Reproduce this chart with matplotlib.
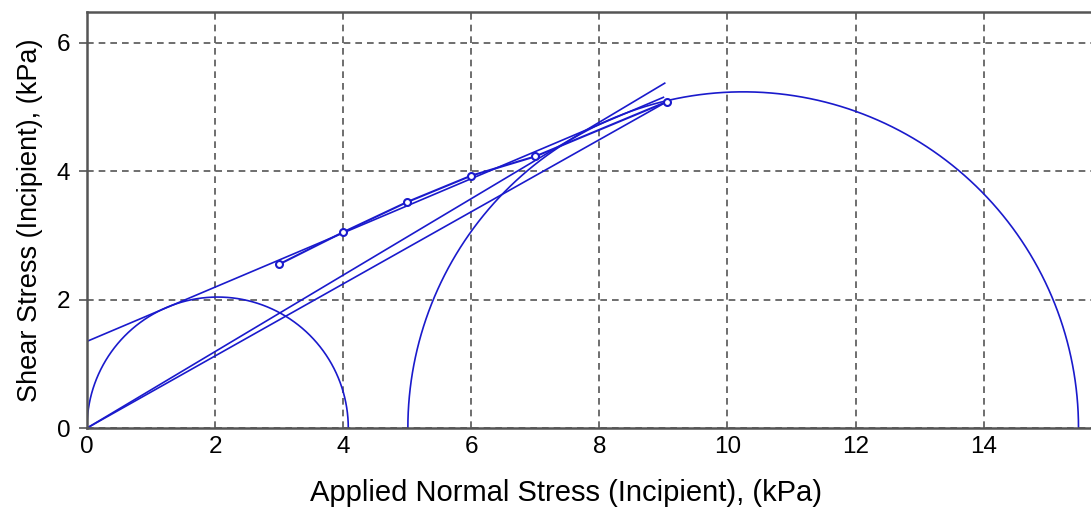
import matplotlib
matplotlib.use('Agg')
import matplotlib.pyplot as plt
import numpy as np

plt.rcParams['font.family'] = ['Liberation Sans', 'DejaVu Sans']

# ensayos de corte: esfuerzo normal aplicado y esfuerzo cortante medido (kPa)
normal = [3, 4, 5, 6, 7, 9.05]
corte = [2.55, 3.05, 3.52, 3.93, 4.23, 5.08]

# circulos de Mohr: (centro, radio)
circulos = [(2.04, 2.04), (10.245, 5.235)]

# envolvente tangente a ambos circulos y rectas desde el origen
envolvente_x = [0, 9.0]
envolvente_y = [1.35, 5.15]
recta_a_x = [0, 9.02]
recta_a_y = [0, 5.37]
recta_b_x = [0, 9.05]
recta_b_y = [0, 5.08]

azul = '#1a1acc'

fig = plt.figure(figsize=(10.91, 5.17), dpi=100)
ax = fig.add_axes([0.0797, 0.172, 0.92, 0.805])

t = np.linspace(0, np.pi, 400)
for c, r in circulos:
    ax.plot(c + r * np.cos(t), r * np.sin(t), color=azul, lw=1.2)

ax.plot(envolvente_x, envolvente_y, color=azul, lw=1.2)
ax.plot(recta_a_x, recta_a_y, color=azul, lw=1.2)
ax.plot(recta_b_x, recta_b_y, color=azul, lw=1.2)
ax.plot(normal, corte, color=azul, lw=1.5, marker='o', ms=5,
        mfc='white', mec=azul, mew=1.5)

ax.set_xlim(0, 15.67)
ax.set_ylim(0, 6.48)
ax.set_xticks([0, 2, 4, 6, 8, 10, 12, 14])
ax.set_yticks([0, 2, 4, 6])
ax.grid(True, color='#555555', linestyle=(0, (4, 3)), lw=1.2)
ax.set_axisbelow(True)

for lado in ['left', 'bottom', 'top', 'right']:
    ax.spines[lado].set_color('#555555')
    ax.spines[lado].set_linewidth(1.8)
ax.spines['right'].set_visible(False)

ax.tick_params(axis='x', length=0, pad=6, labelsize=17.5)
ax.tick_params(axis='y', length=6, width=1.2, color='#555555', pad=6, labelsize=17.5)

ax.set_xlabel('Applied Normal Stress (Incipient), (kPa)', fontsize=21, labelpad=15, x=0.477)
ax.set_ylabel('Shear Stress (Incipient), (kPa)', fontsize=19.5, labelpad=10)

fig.savefig('out.png', dpi=100)
